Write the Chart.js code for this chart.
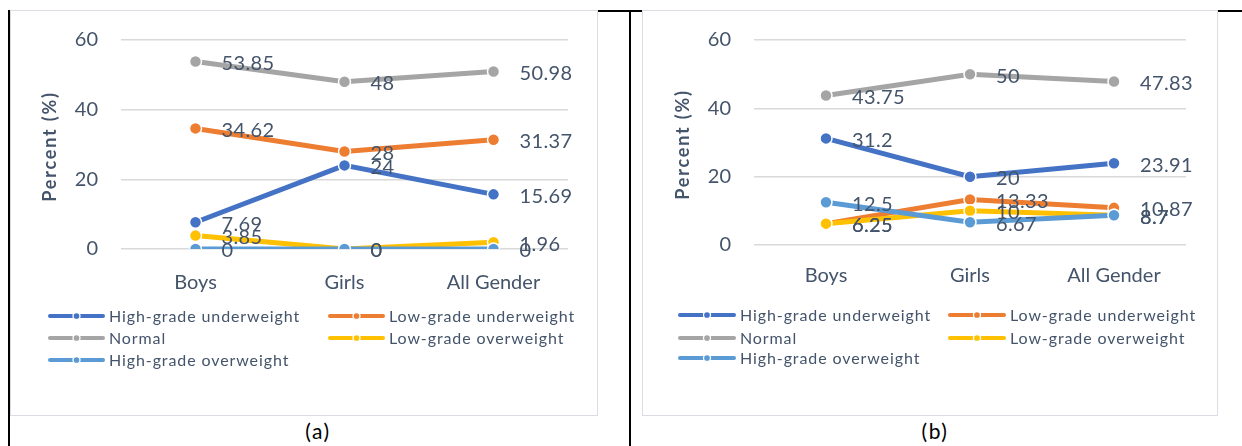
<!DOCTYPE html>
<html><head><meta charset="utf-8">
<script src="https://cdn.jsdelivr.net/npm/chart.js@4.4.1/dist/chart.umd.min.js"></script>
<style>
body{margin:0;background:#fff;width:1242px;height:446px;position:relative;overflow:hidden;font-family:Lato,sans-serif;}
.bl{position:absolute;background:#000;}
.box{position:absolute;border:1.5px solid #dadee4;background:#fff;box-sizing:border-box;}
canvas{position:absolute;}
.cap{position:absolute;top:418px;width:80px;text-align:center;font:21px Lato,sans-serif;color:#000;letter-spacing:1.5px;}
</style></head>
<body>
<div class="bl" style="left:8px;top:10px;width:2px;height:436px"></div>
<div class="bl" style="left:629px;top:10px;width:2px;height:436px"></div>
<div class="bl" style="left:597px;top:10px;width:46px;height:2px"></div>
<div class="bl" style="left:1217px;top:10px;width:25px;height:2px"></div>
<div class="box" style="left:10px;top:10px;width:588px;height:406px"></div>
<div class="box" style="left:642px;top:10px;width:576px;height:406px"></div>
<canvas id="ca" width="585" height="404" style="left:11px;top:11px;width:585px;height:404px"></canvas>
<canvas id="cb" width="572" height="404" style="left:644px;top:11px;width:572px;height:404px"></canvas>
<div class="cap" style="left:278px">(a)</div>
<div class="cap" style="left:895px">(b)</div>
<script>
const categories = ['Boys', 'Girls', 'All Gender'];
const seriesNames = ['High-grade underweight', 'Low-grade underweight', 'Normal', 'Low-grade overweight', 'High-grade overweight'];
const seriesColors = ['#4472C4', '#ED7D31', '#A5A5A5', '#FFC000', '#5B9BD5'];
const yTickValues = [0, 20, 40, 60];
const axisTitle = 'Percent (%)';

// Panel (a)
const aHighUnder = [7.69, 24, 15.69];
const aLowUnder = [34.62, 28, 31.37];
const aNormal = [53.85, 48, 50.98];
const aLowOver = [3.85, 0, 1.96];
const aHighOver = [0, 0, 0];

// Panel (b)
const bHighUnder = [31.2, 20, 23.91];
const bLowUnder = [6.25, 13.33, 10.87];
const bNormal = [43.75, 50, 47.83];
const bLowOver = [6.25, 10, 8.7];
const bHighOver = [12.5, 6.67, 8.7];

const TXT = '#44546A';
const FONT = 'Lato';

const labelsPlugin = {
  id: 'valLabels',
  afterDatasetsDraw(chart) {
    const ctx = chart.ctx;
    ctx.save();
    ctx.font = '20px ' + FONT;
    ctx.letterSpacing = '0.4px';
    ctx.fillStyle = TXT;
    ctx.textAlign = 'left';
    ctx.textBaseline = 'middle';
    chart.data.datasets.forEach((ds, i) => {
      const meta = chart.getDatasetMeta(i);
      meta.data.forEach((pt, j) => {
        ctx.fillText(String(ds.data[j]), pt.x + 26, pt.y + 2);
      });
    });
    ctx.letterSpacing = '0px';
    ctx.restore();
  }
};

const titlePlugin = {
  id: 'yTitle',
  afterDraw(chart) {
    const ctx = chart.ctx;
    const ca = chart.chartArea;
    ctx.save();
    ctx.translate(45, (ca.top + ca.bottom) / 2 + 2);
    ctx.rotate(-Math.PI / 2);
    ctx.font = 'bold 18px ' + FONT;
    ctx.letterSpacing = '1.8px';
    ctx.fillStyle = TXT;
    ctx.textAlign = 'center';
    ctx.textBaseline = 'alphabetic';
    ctx.fillText(axisTitle, 0, 0);
    ctx.letterSpacing = '0px';
    ctx.restore();
  }
};

function legendPlugin(cfg) {
  return {
    id: 'gridLegend',
    afterDraw(chart) {
      const ctx = chart.ctx;
      ctx.save();
      chart.data.datasets.forEach((ds, i) => {
        const col = i % 2, row = Math.floor(i / 2);
        const x0 = cfg.cols[col], y = cfg.rows[row];
        const x1 = x0 + cfg.sample;
        ctx.strokeStyle = ds.borderColor;
        ctx.lineWidth = 4;
        ctx.lineCap = 'round';
        ctx.beginPath(); ctx.moveTo(x0 + 2, y); ctx.lineTo(x1 - 2, y); ctx.stroke();
        ctx.beginPath(); ctx.arc((x0 + x1) / 2, y, 3.5, 0, Math.PI * 2);
        ctx.fillStyle = ds.borderColor; ctx.fill();
        ctx.lineWidth = 1.3; ctx.strokeStyle = '#fff'; ctx.stroke();
        ctx.font = '16px ' + FONT;
        ctx.letterSpacing = '0.9px';
        ctx.fillStyle = TXT;
        ctx.textAlign = 'left';
        ctx.textBaseline = 'middle';
        ctx.fillText(ds.label, x1 + 4, y + 1);
        ctx.letterSpacing = '0px';
      });
      ctx.restore();
    }
  };
}

function makeChart(id, sets, cfg) {
  return new Chart(document.getElementById(id), {
    type: 'line',
    data: {
      labels: categories,
      datasets: sets.map((d, i) => ({
        label: seriesNames[i], data: d,
        borderColor: seriesColors[i], backgroundColor: seriesColors[i],
        borderWidth: 5, tension: 0,
        pointRadius: 6, pointHoverRadius: 6,
        pointBackgroundColor: seriesColors[i],
        pointBorderColor: '#ffffff', pointBorderWidth: 1.5,
        order: 5 - i
      }))
    },
    options: {
      responsive: false, animation: false, events: [],
      layout: { padding: { top: cfg.top, right: cfg.right, left: 0, bottom: 0 } },
      plugins: { legend: { display: false }, tooltip: { enabled: false } },
      scales: {
        x: {
          offset: true,
          grid: { display: false, drawTicks: false },
          border: { display: false },
          ticks: { color: TXT, font: { family: FONT, size: 20 }, padding: cfg.xpad },
          afterFit(s) { s.height = cfg.xh; }
        },
        y: {
          min: 0, max: 60,
          afterBuildTicks(s) { s.ticks = yTickValues.map(v => ({ value: v })); },
          ticks: { color: TXT, font: { family: FONT, size: 20 }, padding: 23 },
          grid: { color: '#d9d9d9', lineWidth: 1.5, drawTicks: false },
          border: { display: false },
          title: { display: false },
          afterFit(s) { s.width = 110; s.paddingTop = 12; s.paddingBottom = 12; }
        }
      }
    },
    plugins: [labelsPlugin, titlePlugin, legendPlugin(cfg.legend)]
  });
}

makeChart('ca', [aHighUnder, aLowUnder, aNormal, aLowOver, aHighOver], {
  top: 29, right: 28, xh: 166, xpad: 22,
  legend: { cols: [37, 317], rows: [305, 327, 349], sample: 57 }
});
makeChart('cb', [bHighUnder, bLowUnder, bNormal, bLowOver, bHighOver], {
  top: 29, right: 30, xh: 170, xpad: 19,
  legend: { cols: [34, 304], rows: [304, 327, 347], sample: 58 }
});
</script>
</body></html>
